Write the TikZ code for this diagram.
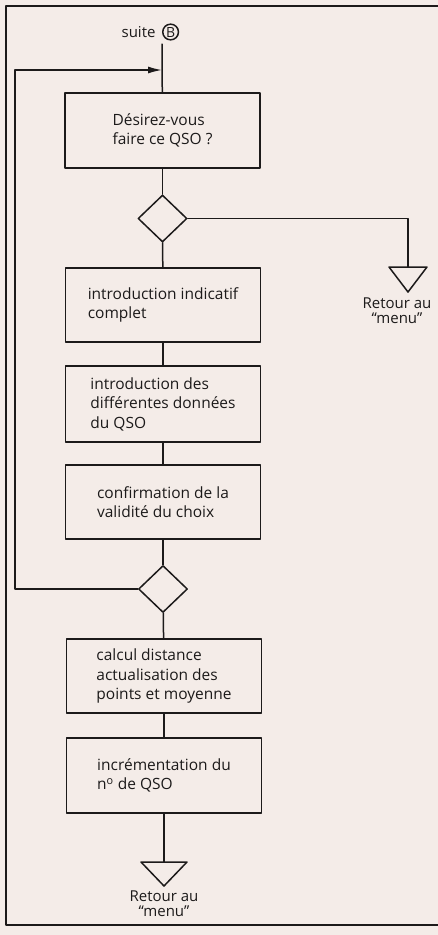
\documentclass[tikz,border=0pt]{standalone}
\usepackage{fontspec}
\setmainfont{Open Sans}
\usetikzlibrary{arrows.meta,shapes.geometric,positioning}
\definecolor{paper}{HTML}{F4ECE8}
\definecolor{ink}{HTML}{1C1A1A}
\tikzset{
  every picture/.style={line join=round, line cap=round, >=Latex},
  flow/.style={line width=1.5pt, draw=ink},
  stepbox/.style={flow, rectangle, minimum width=195pt, inner sep=0pt, align=left,
    font=\fontsize{15.5}{19.5}\selectfont, text=ink},
  test/.style={flow, diamond, aspect=1, inner sep=0pt, minimum width=49pt, minimum height=47pt},
  label/.style={font=\fontsize{15}{15.5}\selectfont, text=ink, align=center},
}

\begin{document}
\begin{tikzpicture}[x=1pt,y=-1pt]
\useasboundingbox (0,0) rectangle (438,935);
\fill[paper] (0,0) rectangle (438,935);
\draw[ink,line width=2pt,line cap=butt] (438,6) -- (6,6) -- (6,925) -- (438,925);
\node[label,anchor=east] (suite) at (159,32) {suite};
\node[flow,circle,inner sep=0.8pt,font=\fontsize{14}{14}\selectfont,text=ink,right=3pt of suite] (B) {B};
\coordinate (start) at (162,44);
\coordinate (merge) at (162,70);
\node[stepbox,minimum height=75pt] (ask) at (162.5,130.5) {Désirez-vous\\faire ce QSO ?};
\node[test] (t1) at (162.5,218.5) {};
\coordinate (ret1) at (408,267);
\node[stepbox,minimum height=74pt] (call) at (163,305) {introduction indicatif\\complet};
\node[stepbox,minimum height=76pt] (data) at (163,404) {introduction des\\différentes données\\du QSO};
\node[stepbox,minimum height=74pt] (conf) at (163,502) {confirmation de la\\validité du choix};
\node[test] (t2) at (163,589) {};
\node[stepbox,minimum height=74pt] (dist) at (164,676) {calcul distance\\actualisation des\\points et moyenne};
\node[stepbox,minimum height=75pt] (incr) at (164,775.5) {incrémentation du\\n\textsuperscript{o} de QSO};
\coordinate (ret2) at (164,862);
\draw[flow] (start) -- (ask);
\draw[flow] (ask) -- (t1);
\draw[flow] (t1) -- (call);
\draw[flow] (call) -- (data);
\draw[flow] (data) -- (conf);
\draw[flow] (conf) -- (t2);
\draw[flow] (t2) -- (dist);
\draw[flow] (dist) -- (incr);
\draw[flow] (incr) -- (ret2);
\draw[flow] (t1.east) -| (ret1);
\draw[flow,-{Latex[length=14pt,width=7pt]}] (t2.west) -- (15,589) |- (merge);
\draw[flow] (ret1) ++(-19,0) -- ++(38,0) -- ++(-19,25) -- cycle;
\draw[flow] (ret2) ++(-23,0) -- ++(46,0) -- ++(-23,24) -- cycle;
\node[label,anchor=north] (menu1) at (397,294) {Retour au\\``menu''};
\node[label,anchor=north] (menu2) at (164,887) {Retour au\\``menu''};
\end{tikzpicture}
\end{document}
